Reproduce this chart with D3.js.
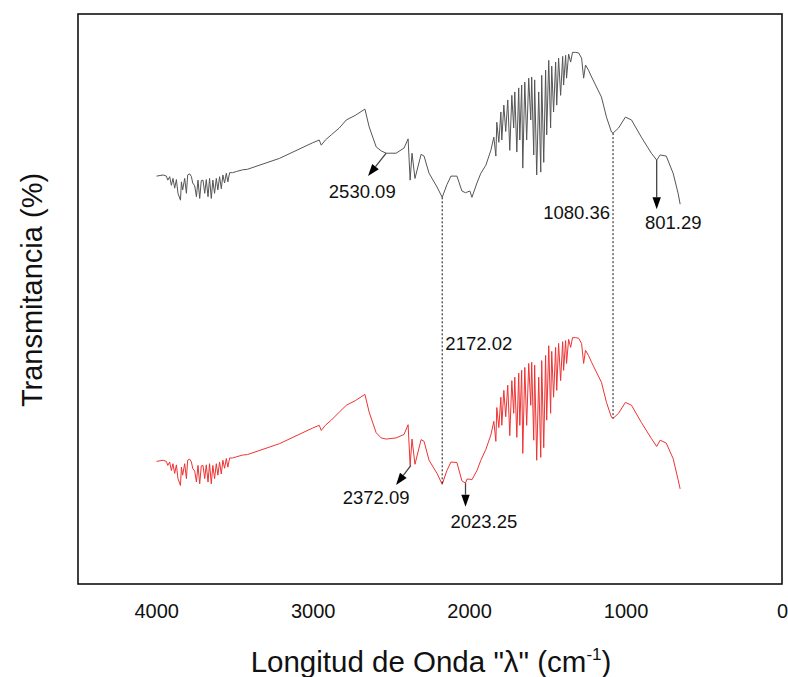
<!DOCTYPE html>
<html>
<head>
<meta charset="utf-8">
<script src="https://cdn.jsdelivr.net/npm/d3@7"></script>
<style>
  html, body { margin: 0; padding: 0; background: #fff; }
  svg { display: block; font-family: "Liberation Sans", Arial, sans-serif; }
</style>
</head>
<body>
<svg id="chart" width="788" height="677"></svg>
<script>
// ---- Data ----
const wavenumbers = [
  3998, 3956, 3935, 3926, 3914, 3903, 3893, 3882, 3871, 3861, 3845, 3839, 3831, 3818, 3807, 3799,
  3786, 3775, 3767, 3754, 3743, 3733, 3722, 3712, 3701, 3690, 3680, 3669, 3659, 3648, 3638, 3627,
  3616, 3606, 3595, 3584, 3574, 3563, 3552, 3542, 3531, 3512, 3488, 3448, 3416, 3212, 3002, 2958,
  2945, 2919, 2881, 2830, 2785, 2728, 2666, 2639, 2594, 2562, 2530, 2467, 2416, 2390, 2377, 2365,
  2346, 2307, 2288, 2256, 2205, 2172, 2142, 2116, 2078, 2046, 2023, 2014, 1995, 1982, 1950, 1925,
  1893, 1861, 1842, 1829, 1823, 1810, 1797, 1791, 1778, 1766, 1753, 1740, 1727, 1715, 1708, 1695,
  1683, 1676, 1664, 1657, 1644, 1632, 1619, 1606, 1600, 1587, 1581, 1568, 1555, 1542, 1536, 1523,
  1511, 1504, 1491, 1479, 1472, 1460, 1447, 1440, 1428, 1415, 1402, 1396, 1383, 1377, 1364, 1351,
  1339, 1319, 1300, 1281, 1268, 1256, 1237, 1217, 1154, 1122, 1090, 1080, 1045, 1001, 962, 899,
  835, 801, 779, 740, 696, 664, 651
];

// upper (grey) spectrum, transmittance %
const transUpper = [
  71.2, 71.4, 71.2, 70.5, 71.1, 69.6, 70.8, 69.1, 70.6, 68.2, 67.0, 70.2, 68.8, 70.8, 68.2, 71.4,
  71.6, 71.1, 70.0, 69.5, 67.6, 70.5, 67.3, 70.4, 70.5, 68.2, 70.6, 67.6, 70.8, 67.3, 70.5, 68.2,
  70.8, 68.8, 71.1, 69.0, 71.4, 70.0, 71.7, 70.2, 71.8, 71.8, 72.0, 72.3, 72.4, 74.3, 77.0, 77.5,
  76.6, 77.5, 78.4, 79.6, 81.0, 81.8, 82.9, 79.8, 76.3, 75.6, 75.2, 75.2, 76.1, 77.7, 70.5, 75.2,
  70.8, 75.0, 74.7, 71.7, 69.3, 67.5, 69.7, 71.2, 71.2, 68.6, 68.3, 68.4, 68.6, 67.5, 70.0, 71.7,
  73.1, 75.7, 78.0, 74.7, 80.6, 77.1, 82.4, 77.5, 83.6, 79.0, 84.5, 75.7, 85.3, 79.6, 85.9, 75.4,
  86.6, 77.5, 87.1, 72.6, 87.6, 77.5, 88.3, 81.0, 88.5, 74.9, 88.0, 71.4, 85.9, 71.9, 88.8, 73.6,
  89.7, 78.4, 91.4, 79.6, 90.4, 82.4, 91.1, 83.6, 91.8, 85.3, 92.1, 87.1, 92.3, 88.3, 92.5, 91.1,
  92.8, 92.8, 92.7, 91.8, 88.3, 90.6, 89.7, 88.5, 85.0, 81.5, 78.9, 78.7, 79.6, 81.5, 81.0, 78.0,
  75.2, 74.0, 74.9, 74.7, 71.7, 68.2, 66.3
];

// lower (red) spectrum, transmittance %
const transLower = [
  21.4, 21.6, 21.4, 20.7, 21.3, 19.8, 21.0, 19.3, 20.8, 18.4, 17.2, 20.4, 19.0, 21.0, 18.4, 21.6,
  21.8, 21.3, 20.2, 19.7, 17.8, 20.7, 17.5, 20.6, 20.7, 18.4, 20.8, 17.8, 21.0, 17.5, 20.7, 18.4,
  21.0, 19.0, 21.3, 19.2, 21.6, 20.2, 21.9, 20.4, 22.0, 22.0, 22.2, 22.5, 22.6, 24.5, 27.2, 27.7,
  26.8, 27.7, 28.6, 30.0, 31.2, 32.0, 33.1, 30.0, 26.4, 25.5, 25.3, 25.5, 26.1, 27.8, 20.7, 25.3,
  20.9, 25.2, 24.9, 21.6, 19.3, 17.4, 19.8, 21.3, 21.2, 18.0, 17.6, 18.3, 18.3, 18.2, 19.8, 21.6,
  23.5, 26.0, 28.4, 24.9, 30.8, 27.3, 32.6, 27.7, 33.8, 29.2, 34.7, 25.9, 35.5, 29.8, 36.1, 25.6,
  36.8, 27.7, 37.3, 22.8, 37.8, 27.7, 38.5, 31.2, 38.7, 25.1, 38.2, 21.6, 36.1, 22.1, 39.0, 23.8,
  39.9, 28.6, 41.6, 29.8, 40.6, 32.6, 41.3, 33.8, 42.0, 35.5, 42.3, 37.3, 42.5, 38.5, 42.7, 41.3,
  43.0, 43.0, 42.9, 42.0, 38.5, 40.8, 39.9, 38.7, 35.2, 31.7, 29.1, 28.9, 29.8, 31.7, 31.2, 28.2,
  25.4, 24.0, 25.1, 24.6, 21.9, 18.2, 16.6
];

const xTicks = [4000, 3000, 2000, 1000, 0];
const xDomain = [4500, 0];
const yDomain = [0, 99.5];

// arrow annotations
const arrowLabels = ["2530.09", "801.29", "2372.09", "2023.25"];
const arrowFrom = [[2530, 75.2], [801, 74.0], [2372, 20.7], [2023, 17.6]];
const arrowTo = [[2646, 71.2], [801, 65.4], [2467, 17.3], [2023, 13.5]];
const arrowLabelPos = [[2683, 67.4], [695, 62.0], [2594, 13.9], [1906, 9.8]];

// dotted guide lines between the two spectra
const guideWaves = [2172, 1080];
const guideLabels = ["2172.02", "1080.36"];
const guideLabelPos = [[1938, 40.9], [1313, 63.8]];

// ---- Drawing ----
const svg = d3.select("#chart");
const plotLeft = 78, plotRight = 782, plotTop = 14, plotBottom = 584;

const x = d3.scaleLinear().domain(xDomain).range([plotLeft, plotRight]);
const y = d3.scaleLinear().domain(yDomain).range([plotBottom, plotTop]);

// frame
svg.append("rect")
  .attr("x", plotLeft).attr("y", plotTop)
  .attr("width", plotRight - plotLeft).attr("height", plotBottom - plotTop)
  .attr("fill", "none").attr("stroke", "#111").attr("stroke-width", 1.6);

// x axis labels
const xAxis = d3.axisBottom(x).tickValues(xTicks).tickSize(0).tickPadding(20)
  .tickFormat(d3.format("d"));
const gx = svg.append("g").attr("transform", `translate(0,${plotBottom})`).call(xAxis);
gx.select(".domain").remove();
gx.selectAll("text")
  .attr("font-size", 20).attr("fill", "#111")
  .attr("font-family", '"Liberation Sans", Arial, sans-serif');

// axis titles
const xt = svg.append("text")
  .attr("x", 431).attr("y", 672)
  .attr("text-anchor", "middle").attr("font-size", 29.5).attr("fill", "#111");
xt.append("tspan").text('Longitud de Onda "λ" (cm');
xt.append("tspan").attr("font-size", 17).attr("dy", -12).text("-1");
xt.append("tspan").attr("dy", 12).text(")");

svg.append("text")
  .attr("transform", "translate(42,290) rotate(-90)")
  .attr("text-anchor", "middle").attr("font-size", 29).attr("fill", "#111")
  .text("Transmitancia (%)");

// spectra
const line = d3.line().x(d => x(d[0])).y(d => y(d[1]));
const upperData = wavenumbers.map((w, i) => [w, transUpper[i]]);
const lowerData = wavenumbers.map((w, i) => [w, transLower[i]]);

svg.append("path").datum(upperData)
  .attr("d", line).attr("fill", "none")
  .attr("stroke", "#555").attr("stroke-width", 1).attr("stroke-linejoin", "round");
svg.append("path").datum(lowerData)
  .attr("d", line).attr("fill", "none")
  .attr("stroke", "#ee3333").attr("stroke-width", 1).attr("stroke-linejoin", "round");

// dotted guide lines
const interp = (arr, w) => {
  for (let i = 0; i < wavenumbers.length - 1; i++) {
    const a = wavenumbers[i], b = wavenumbers[i + 1];
    if (w <= a && w >= b) {
      const t = (a - w) / (a - b);
      return arr[i] + t * (arr[i + 1] - arr[i]);
    }
  }
  return arr[arr.length - 1];
};
guideWaves.forEach((w, i) => {
  svg.append("line")
    .attr("x1", x(w)).attr("x2", x(w))
    .attr("y1", y(interp(transUpper, w))).attr("y2", y(interp(transLower, w)))
    .attr("stroke", "#111").attr("stroke-width", 1).attr("stroke-dasharray", "2,2");
  svg.append("text")
    .attr("x", x(guideLabelPos[i][0])).attr("y", y(guideLabelPos[i][1]))
    .attr("text-anchor", "middle").attr("font-size", 18.5).attr("fill", "#111")
    .text(guideLabels[i]);
});

// arrows
arrowLabels.forEach((lab, i) => {
  const x1 = x(arrowFrom[i][0]), y1 = y(arrowFrom[i][1]);
  const x2 = x(arrowTo[i][0]), y2 = y(arrowTo[i][1]);
  const ang = Math.atan2(y2 - y1, x2 - x1);
  const L = 12, H = 4.2;
  const bx = x2 - L * Math.cos(ang), by = y2 - L * Math.sin(ang);
  svg.append("line")
    .attr("x1", x1).attr("y1", y1).attr("x2", bx).attr("y2", by)
    .attr("stroke", "#444").attr("stroke-width", 1.3);
  const p1 = [bx + H * Math.sin(ang), by - H * Math.cos(ang)];
  const p2 = [bx - H * Math.sin(ang), by + H * Math.cos(ang)];
  svg.append("path")
    .attr("d", `M${x2},${y2}L${p1[0]},${p1[1]}L${p2[0]},${p2[1]}Z`)
    .attr("fill", "#000");
  svg.append("text")
    .attr("x", x(arrowLabelPos[i][0])).attr("y", y(arrowLabelPos[i][1]))
    .attr("text-anchor", "middle").attr("font-size", 18.5).attr("fill", "#111")
    .text(lab);
});
</script>
</body>
</html>
